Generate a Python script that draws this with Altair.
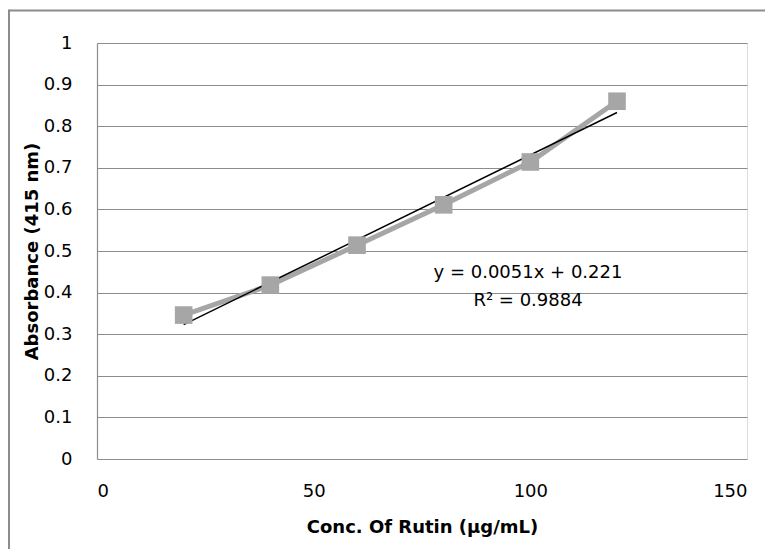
import altair as alt
import pandas as pd

# Data
conc = [20, 40, 60, 80, 100, 120]
absorb = [0.346, 0.418, 0.514, 0.611, 0.714, 0.860]
slope = 0.0051
intercept = 0.221
r2 = 0.9884

x_title = "Conc. Of Rutin (µg/mL)"
y_title = "Absorbance (415 nm)"

W, H = 650, 416
FONT = "DejaVu Sans"
GRID = "#8c8c8c"
SERIES = "#a6a6a6"

df = pd.DataFrame({"conc": conc, "abs": absorb})
trend_x = [min(conc), max(conc)]
trend = pd.DataFrame({"conc": trend_x, "abs": [slope * v + intercept for v in trend_x]})
eq = pd.DataFrame({"label": [f"y = {slope}x + {intercept}\nR² = {r2}"]})
one = pd.DataFrame({"k": [0]})

xscale = alt.Scale(domain=[0, 150], nice=False)
yscale = alt.Scale(domain=[0, 1], nice=False)

xaxis = alt.Axis(
    values=[0, 50, 100, 150], grid=False, ticks=False, domain=False,
    labelFontSize=18, labelFont=FONT, labelColor="#000", labelPadding=23,
    title=x_title, titleFont=FONT, titleFontSize=18, titleFontWeight="bold",
    titleColor="#000", titleX=W / 2, titleY=68, titleBaseline="middle",
)
yaxis = alt.Axis(
    values=[round(i * 0.1, 1) for i in range(11)], format="~g",
    grid=True, gridColor=GRID, gridWidth=1.2, gridOpacity=1,
    ticks=False, domain=True, domainColor=GRID, domainWidth=1.2,
    labelFontSize=18, labelFont=FONT, labelColor="#000", labelPadding=25,
    title=y_title, titleFont=FONT, titleFontSize=18, titleFontWeight="bold",
    titleColor="#000", titleX=-65, titleY=H / 2, titleAngle=-90,
    titleBaseline="middle", titleAlign="center",
)

base = alt.Chart(df)
line = base.mark_line(color=SERIES, strokeWidth=5).encode(
    x=alt.X("conc:Q", scale=xscale, axis=xaxis),
    y=alt.Y("abs:Q", scale=yscale, axis=yaxis),
)
points = base.mark_point(shape="square", filled=True, size=310, color=SERIES, opacity=1).encode(
    x=alt.X("conc:Q", scale=xscale),
    y=alt.Y("abs:Q", scale=yscale),
)
trendline = alt.Chart(trend).mark_line(color="#000", strokeWidth=1.5).encode(
    x=alt.X("conc:Q", scale=xscale),
    y=alt.Y("abs:Q", scale=yscale),
)
label = alt.Chart(eq).mark_text(
    font=FONT, fontSize=18, color="#000", lineBreak="\n", lineHeight=28,
    align="center", baseline="middle",
).encode(text="label:N", x=alt.value(431), y=alt.value(230))

border_top = alt.Chart(one).mark_rule(color=GRID, strokeWidth=2).encode(
    x=alt.value(-88), x2=alt.value(W + 18), y=alt.value(-32.5)
)
border_left = alt.Chart(one).mark_rule(color=GRID, strokeWidth=2).encode(
    x=alt.value(-88), y=alt.value(-33.5), y2=alt.value(H + 90)
)

chart = alt.layer(border_top, border_left, line, trendline, points, label).properties(
    width=W, height=H,
    autosize=alt.AutoSizeParams(type="none"),
    padding={"left": 89, "top": 35, "right": 18, "bottom": 90},
).configure_view(stroke=None).configure(background="white")

chart.save("out.html", embed_options={"renderer": "svg", "actions": False})
